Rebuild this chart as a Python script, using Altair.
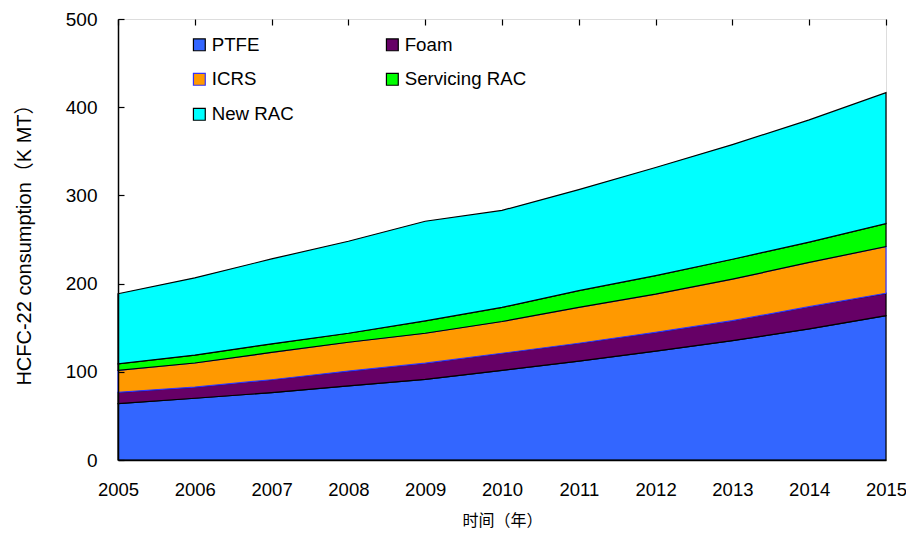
import altair as alt
import pandas as pd

years = [2005, 2006, 2007, 2008, 2009, 2010, 2011, 2012, 2013, 2014, 2015]
series = ["PTFE", "Foam", "ICRS", "Servicing RAC", "New RAC"]
ptfe = [64, 70, 76.4, 84, 91.4, 101.6, 112, 123.4, 135.4, 148.6, 163.6]
foam = [12.7, 12.7, 14.6, 16.8, 18.4, 19.4, 20.4, 21.4, 22.6, 25.2, 25.4]
icrs = [24.9, 27.3, 31, 32.7, 33.9, 36, 40.6, 43.2, 47, 50.2, 53]
servicing = [7.4, 9, 9.7, 10.2, 14, 16, 19, 21, 22.6, 23, 26]
new_rac = [79.5, 87.5, 96.3, 104.3, 113, 110, 114.6, 122.6, 130, 138.6, 148.5]
fills = ["#3366FF", "#660066", "#FF9900", "#00FF00", "#00FFFF"]
strokes = ["#000000", "#000000", "#3333FF", "#000000", "#000000"]

values = [ptfe, foam, icrs, servicing, new_rac]
rows = []
cum = [0.0] * len(years)
for name, vals in zip(series, values):
    for i, y in enumerate(years):
        lo = cum[i]
        hi = lo + vals[i]
        rows.append({"year": y, "series": name, "lo": lo, "hi": hi})
    cum = [c + v for c, v in zip(cum, vals)]
df = pd.DataFrame(rows)

FONT = "'Liberation Sans', Arial, 'Noto Sans CJK SC'"

x_enc = alt.X(
    "year:Q",
    scale=alt.Scale(domain=[2005, 2015], nice=False, zero=False),
    axis=alt.Axis(
        values=years, format="d", title="时间（年）",
        ticks=False, labelPadding=20, labelFontSize=18.5, labelFont=FONT,
        labelColor="black", labelFlush=False, labelOverlap=False, labelBound=False,
        titleFont="'Noto Sans CJK SC'", titleFontSize=16,
        titleFontWeight="normal", titleColor="black", titlePadding=14,
        domainColor="black", domainWidth=1.5,
        grid=True, gridColor="black", gridWidth=1.2, gridDash=[6, 3000], gridOpacity=1,
        zindex=1,
    ),
)
y_enc = alt.Y(
    "hi:Q",
    scale=alt.Scale(domain=[0, 500], nice=False),
    axis=alt.Axis(
        values=[0, 100, 200, 300, 400, 500], title="HCFC-22 consumption（K MT）",
        ticks=False, labelPadding=21, labelFontSize=19, labelFont=FONT,
        labelColor="black", labelFlush=False, labelOverlap=False,
        titleFont=FONT, titleFontSize=20,
        titleFontWeight="normal", titleColor="black", titlePadding=31,
        domainColor="black", domainWidth=1.5,
        grid=True, gridColor="black", gridWidth=1.2, gridDash=[6, 3000], gridOpacity=1,
        zindex=1,
    ),
)

legend_kw = dict(
    title=None, orient="none", legendX=72, legendY=16, columns=2, direction="horizontal",
    columnPadding=89, rowPadding=15, symbolType="square", symbolSize=140,
    symbolStrokeWidth=1.2, labelFont=FONT,
    labelFontSize=18.7, labelColor="black", labelOffset=3, padding=0,
    symbolOpacity=1,
)
fill_enc = alt.Fill(
    "series:N",
    scale=alt.Scale(domain=series, range=fills),
    sort=series,
    legend=alt.Legend(symbolStrokeColor="black", **legend_kw),
)
stroke_enc = alt.Stroke(
    "series:N",
    scale=alt.Scale(domain=series, range=strokes),
    sort=series,
    legend=alt.Legend(**legend_kw),
)

layers = []
for name in series:
    layers.append(
        alt.Chart(df)
        .transform_filter(alt.datum.series == name)
        .mark_area(strokeWidth=1.2, opacity=1, fillOpacity=1)
        .encode(x=x_enc, y=y_enc, y2="lo:Q", fill=fill_enc, stroke=stroke_enc)
    )

chart = (
    alt.layer(*layers)
    .properties(
        width=768, height=441,
        autosize=alt.AutoSizeParams(type="none"),
        padding={"left": 110, "top": 11, "right": 20, "bottom": 70},
    )
    .configure_view(stroke="#808080", strokeWidth=1)
    .configure(background="white")
)

chart.save("out.html", embed_options={"renderer": "svg", "actions": False})
